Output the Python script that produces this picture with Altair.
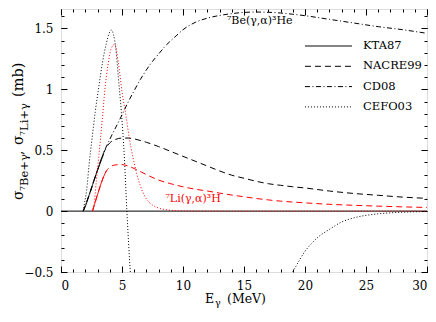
import altair as alt
import pandas as pd

# ---------------- data ----------------
models = ["KTA87", "NACRE99", "CD08", "CEFO03"]

kta_be_E = [1.82, 2.0, 2.3, 2.6, 2.9, 3.2, 3.5]
kta_be_s = [0, 0.04, 0.13, 0.22, 0.31, 0.39, 0.47]
kta_li_E = [2.58, 2.8, 3.1, 3.4, 3.72]
kta_li_s = [0, 0.07, 0.17, 0.26, 0.33]

nacre_be_E = [1.82, 2.3, 2.9, 3.5, 3.8, 4.0, 4.5, 5.0, 5.5, 6.0, 7.0, 8.0, 9.0, 10.0, 11.0, 12.0, 13.0,
              14.0, 15.0, 16.0, 17.0, 18.0, 19.0, 20.0, 22.0, 24.0, 26.0, 28.0, 30.0]
nacre_be_s = [0, 0.13, 0.31, 0.48, 0.535, 0.56, 0.59, 0.6, 0.6, 0.593, 0.565, 0.53, 0.49, 0.45, 0.41,
              0.37, 0.33, 0.295, 0.27, 0.245, 0.225, 0.212, 0.2, 0.19, 0.165, 0.145, 0.13, 0.115, 0.105]
nacre_li_E = [2.58, 3.1, 3.72, 4.0, 4.5, 5.0, 5.5, 6.0, 7.0, 8.0, 9.0, 10.0, 11.0, 12.0, 13.0, 14.0,
              15.0, 16.0, 17.0, 18.0, 20.0, 22.0, 24.0, 26.0, 28.0, 30.0]
nacre_li_s = [0, 0.17, 0.33, 0.36, 0.38, 0.382, 0.37, 0.35, 0.3, 0.255, 0.225, 0.2, 0.18, 0.165,
              0.148, 0.132, 0.118, 0.104, 0.092, 0.082, 0.068, 0.056, 0.048, 0.041, 0.035, 0.03]

cd08_be_E = [1.82, 2.3, 2.9, 3.5, 4.0, 4.5, 5.0, 5.5, 6.0, 6.5, 7.0, 7.5, 8.0, 8.5, 9.0, 9.5, 10.0,
             11.0, 12.0, 13.0, 14.0, 15.0, 16.0, 17.0, 18.0, 19.0, 20.0, 22.0, 24.0, 26.0, 28.0, 30.0]
cd08_be_s = [0, 0.13, 0.31, 0.48, 0.59, 0.69, 0.79, 0.895, 0.99, 1.08, 1.16, 1.23, 1.29, 1.35, 1.40,
             1.445, 1.49, 1.55, 1.585, 1.607, 1.622, 1.632, 1.635, 1.633, 1.627, 1.617, 1.605, 1.575,
             1.545, 1.515, 1.49, 1.46]

cefo_be_E1 = [1.82, 1.9, 2.1, 2.3, 2.55, 2.8, 3.1, 3.4, 3.7, 3.95, 4.13, 4.3, 4.5, 4.7, 4.95, 5.2,
              5.4, 5.68]
cefo_be_s1 = [0, 0.05, 0.17, 0.38, 0.6, 0.81, 1.02, 1.22, 1.37, 1.46, 1.487, 1.45, 1.33, 1.1, 0.81,
              0.43, 0.0, -0.5]
cefo_be_E2 = [19.0, 19.5, 20.0, 20.5, 21.0, 22.0, 23.0, 24.0, 25.0, 26.0, 27.0, 28.0, 30.0]
cefo_be_s2 = [-0.5, -0.41, -0.33, -0.27, -0.22, -0.15, -0.09, -0.055, -0.035, -0.022, -0.014,
              -0.009, -0.003]
cefo_li_E = [2.55, 2.7, 2.9, 3.1, 3.4, 3.6, 3.85, 4.1, 4.4, 4.7, 5.0, 5.3, 5.6, 5.9, 6.2, 6.5, 7.0,
             7.5, 8.0, 8.6, 9.5, 11.0, 15.0, 20.0, 25.0, 30.0]
cefo_li_s = [0, 0.05, 0.25, 0.45, 0.77, 1.0, 1.2, 1.33, 1.37, 1.22, 0.98, 0.8, 0.6, 0.44, 0.31, 0.21,
             0.1, 0.05, 0.025, 0.012, 0.004, 0.001, 0, 0, 0, 0]

x_major = [0, 5, 10, 15, 20, 25, 30]
x_minor = list(range(0, 31))
y_major = [-0.5, 0, 0.5, 1, 1.5]
y_minor = [round(-0.5 + 0.1 * i, 1) for i in range(22)]

# ---------------- build table ----------------
series = [
    ("KTA87", "7Be", "a", kta_be_E, kta_be_s),
    ("KTA87", "7Li", "b", kta_li_E, kta_li_s),
    ("NACRE99", "7Be", "c", nacre_be_E, nacre_be_s),
    ("NACRE99", "7Li", "d", nacre_li_E, nacre_li_s),
    ("CD08", "7Be", "e", cd08_be_E, cd08_be_s),
    ("CEFO03", "7Be", "f", cefo_be_E1, cefo_be_s1),
    ("CEFO03", "7Be", "g", cefo_be_E2, cefo_be_s2),
    ("CEFO03", "7Li", "h", cefo_li_E, cefo_li_s),
]
rows = []
for m, t, seg, Es, ss in series:
    for e, s in zip(Es, ss):
        rows.append({"model": m, "target": t, "seg": seg, "E": e, "sigma": s})
df = pd.DataFrame(rows)

FONT = "DejaVu Serif"
xscale = alt.Scale(domain=[0, 30], nice=False, zero=False)
yscale = alt.Scale(domain=[-0.5, 1.66], nice=False, zero=False)


def tick_axis(orient, values, size):
    return alt.Axis(orient=orient, values=values, labels=False, domain=False, grid=False,
                    ticks=True, tickSize=size, offset=-size, tickColor="black",
                    tickWidth=1, title=None)


lines = alt.Chart(df).mark_line(clip=True, strokeWidth=1, interpolate="monotone").encode(
    x=alt.X("E:Q", scale=xscale,
            axis=alt.Axis(values=x_major, ticks=False, domain=False, grid=False, title=None,
                          labelFont=FONT, labelFontSize=12, labelColor="black", labelPadding=8,
                          format="d")),
    y=alt.Y("sigma:Q", scale=yscale,
            axis=alt.Axis(values=y_major, ticks=False, domain=False, grid=False, title=None,
                          labelFont=FONT, labelFontSize=12, labelColor="black", labelPadding=8,
                          labelExpr="datum.value == 0 || datum.value == 1 ? format(datum.value, 'd') : format(datum.value, '.1f')")),
    color=alt.Color("target:N", scale=alt.Scale(domain=["7Be", "7Li"], range=["#000000", "#ff0000"]),
                    legend=None),
    strokeDash=alt.StrokeDash(
        "model:N",
        scale=alt.Scale(domain=models, range=[[1, 0], [6, 4], [5, 2.5, 1, 2.5], [1, 2]]),
        legend=alt.Legend(title=None, orient="none", legendX=261, legendY=30.5,
                          symbolType="M-4.1,0H4.1", symbolSize=132, symbolStrokeWidth=1,
                          symbolStrokeColor="black", symbolFillColor="transparent",
                          labelFont=FONT, labelFontSize=11.5,
                          labelColor="black", labelOffset=28, rowPadding=8.3)),
    detail="seg:N",
)

zero = alt.Chart(pd.DataFrame({"sigma": [0]})).mark_rule(color="black", strokeWidth=1).encode(
    y=alt.Y("sigma:Q", scale=yscale, axis=None)
)


def axis_layer(xo, xv, yo, yv, size):
    return alt.Chart(df).mark_point(opacity=0, size=0).encode(
        x=alt.X("E:Q", scale=xscale, axis=tick_axis(xo, xv, size)),
        y=alt.Y("sigma:Q", scale=yscale, axis=tick_axis(yo, yv, size)),
    )


ax1 = axis_layer("bottom", x_major, "left", y_major, 6)
ax2 = axis_layer("bottom", x_minor, "left", y_minor, 3)
ax3 = axis_layer("top", x_major, "right", y_major, 6)
ax4 = axis_layer("top", x_minor, "right", y_minor, 3)


def note(s, E, sig, color, size):
    return alt.Chart(pd.DataFrame({"t": [s], "E": [E], "sigma": [sig]})).mark_text(
        font=FONT, fontSize=size, color=color, align="left", baseline="middle"
    ).encode(x=alt.X("E:Q", scale=xscale, axis=None), y=alt.Y("sigma:Q", scale=yscale, axis=None),
             text="t:N")


be_note = note("⁷Be(γ,α)³He", 13.6, 1.56, "black", 11)
li_note = note("⁷Li(γ,α)³H", 8.56, 0.097, "#ff0000", 11)


def txt(s, px, py, size, angle=0):
    return alt.Chart(pd.DataFrame({"t": [s]})).mark_text(
        font=FONT, fontSize=size, color="black", align="left", baseline="alphabetic", angle=angle
    ).encode(text="t:N", x=alt.value(px), y=alt.value(py))


title_parts = [
    txt("σ", -38, 191, 14, 270),
    txt("7", -36, 182, 8, 270),
    txt("Be+γ", -33.5, 177, 11.5, 270),
    txt(",", -38, 146, 14, 270),
    txt("σ", -38, 136, 14, 270),
    txt("7", -36, 127, 8, 270),
    txt("Li+γ", -33.5, 122, 11.5, 270),
    txt("(mb)", -38, 88, 14.5, 270),
    txt("E", 144, 294, 12.5),
    txt("γ", 154, 297, 9.5),
    txt("(MeV)", 166, 294, 12.5),
]

chart = alt.layer(
    zero, lines, ax1, ax2, ax3, ax4, be_note, li_note, *title_parts
).resolve_axis(x="independent", y="independent").properties(
    width=366, height=263,
    autosize=alt.AutoSizeParams(type="none"),
    padding={"left": 53, "top": 1, "right": 1, "bottom": 37},
).configure_view(stroke="black", strokeWidth=1).configure(background="white")

chart.save("out.html", embed_options={"renderer": "svg", "actions": False})
